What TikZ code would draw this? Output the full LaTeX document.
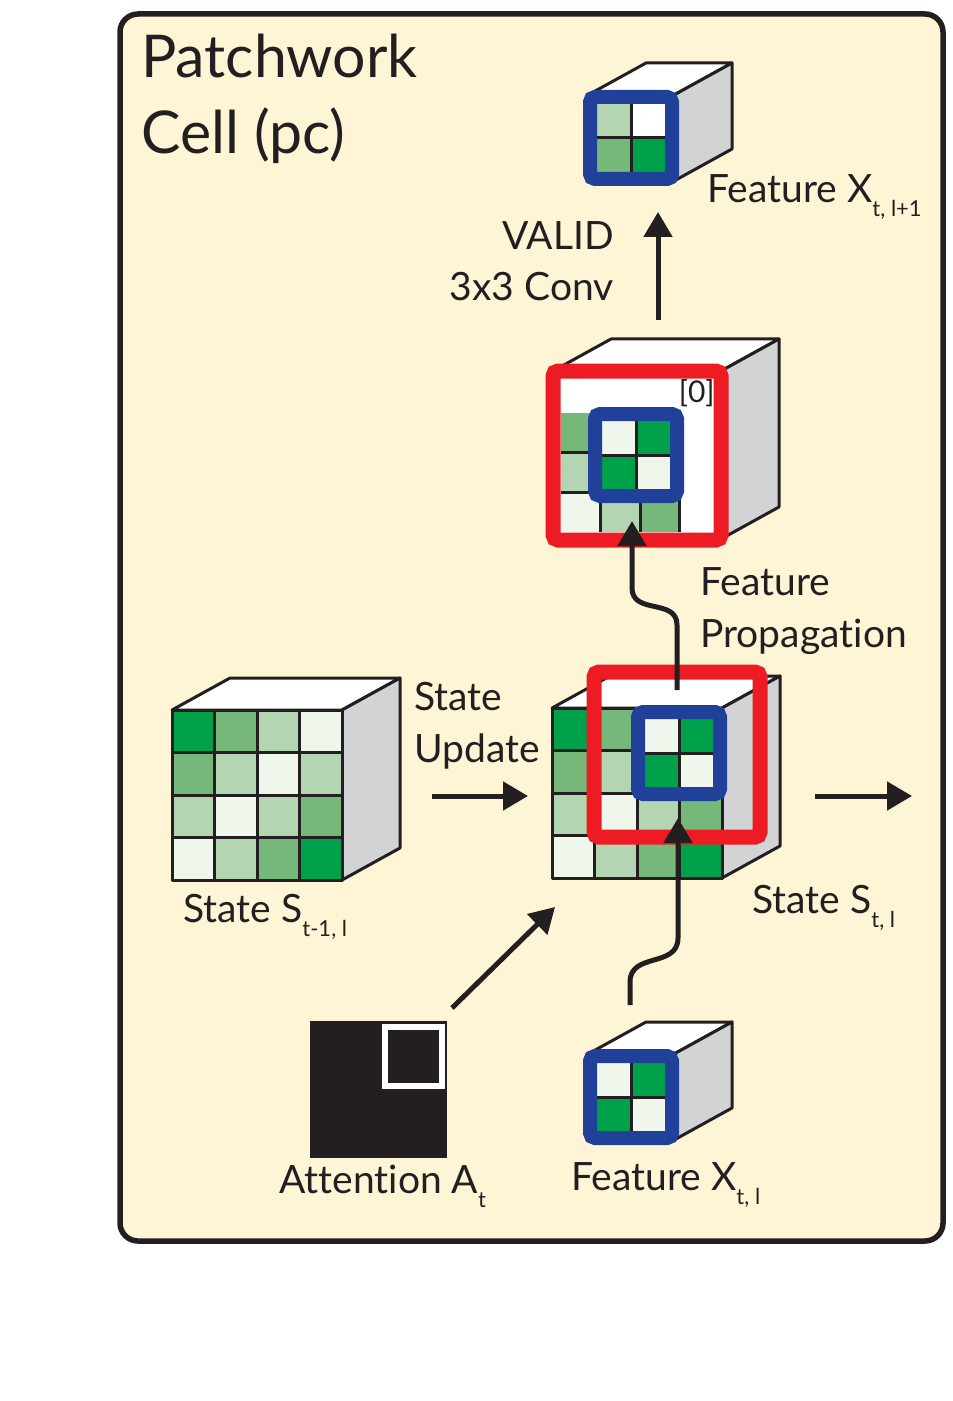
\documentclass[tikz,border=0pt]{standalone}
\usepackage{fontspec}
\setmainfont{Lato}[Ligatures=NoCommon]
\usetikzlibrary{arrows.meta}
\definecolor{cream}{HTML}{FEF5D6}
\definecolor{ink}{HTML}{231F20}
\definecolor{sidegrey}{HTML}{D1D3D4}
\definecolor{gA}{HTML}{EFF6EC}
\definecolor{gB}{HTML}{B3D5B1}
\definecolor{gC}{HTML}{76B87A}
\definecolor{gD}{HTML}{00A14B}
\definecolor{pblue}{HTML}{21409A}
\definecolor{pred}{HTML}{ED1C24}
\tikzset{
  cubeline/.style={draw=ink, line width=1.5pt, line join=round},
  gridline/.style={draw=ink, line width=1.5pt},
  blueframe/.style={draw=pblue, line width=7pt, rounded corners=2.5pt},
  redframe/.style={draw=pred, line width=7.5pt, rounded corners=2.5pt},
  flow/.style={draw=ink, line width=2.5pt, -{Triangle[width=14pt,length=12.5pt]}},
  lbl/.style={text=ink, font=\fontsize{19.5}{24}\selectfont, inner sep=0pt},
  anchorbox/.style={inner sep=0pt, minimum size=#1, draw=none}
}
\newcommand\subx[1]{\raisebox{-7pt}{\fontsize{11}{11}\selectfont #1}}
\newcommand\drawcube[3]{%
  \filldraw[cubeline, fill=white] (#1,#2) -- ++(58,-32) -- ++(#3,0) -- ({#1+#3},#2) -- cycle;
  \filldraw[cubeline, fill=sidegrey] ({#1+#3},#2) -- ++(58,-32) -- ++(0,#3) -- ({#1+#3},{#2+#3}) -- cycle;
  \filldraw[cubeline, fill=white] (#1,#2) rectangle ++(#3,#3);
}
\newcommand\cellgrid[5]{%
  \foreach \cc [count=\i from 0] in {#5} {
    \pgfmathtruncatemacro\gc{mod(\i,#4)}
    \pgfmathtruncatemacro\gr{floor(\i/#4)}
    \fill[\cc] ({#1+\gc*#3},{#2+\gr*#3}) rectangle ++(#3,#3);
  }
  \pgfmathtruncatemacro\nm{#4-1}
  \foreach \k in {1,...,\nm} {
    \draw[gridline] ({#1+\k*#3},#2) -- ++(0,{#4*#3});
    \draw[gridline] (#1,{#2+\k*#3}) -- ++({#4*#3},0);
  }
}
\newcommand\bluepatch[6]{%
  \fill[#3] ({#1-34},{#2-34}) rectangle (#1,#2);
  \fill[#4] (#1,{#2-34}) rectangle ({#1+34},#2);
  \fill[#5] ({#1-34},#2) rectangle (#1,{#2+34});
  \fill[#6] (#1,#2) rectangle ({#1+34},{#2+34});
  \draw[gridline] (#1,{#2-34}) -- (#1,{#2+34});
  \draw[gridline] ({#1-34},#2) -- ({#1+34},#2);
  \draw[blueframe] ({#1-41},{#2-41}) rectangle ({#1+41},{#2+41});
}
\begin{document}
\begin{tikzpicture}[x=0.5pt,y=-0.5pt]
\useasboundingbox (0,0) rectangle (952,1401);
\fill[white] (0,0) rectangle (952,1401);
\filldraw[draw=ink, fill=cream, line width=2.75pt, rounded corners=9pt] (120,14) rectangle (943,1241);

% title
\node[text=ink, font=\fontsize{29.5}{38}\selectfont, inner sep=0pt, anchor=base west] (title1) at (141,78) {Patchwork};
\node[text=ink, font=\fontsize{29.5}{38}\selectfont, inner sep=0pt, anchor=base west] (title2) at (141,154) {Cell (pc)};

% top cube: Feature X_{t,l+1}
\drawcube{588}{95}{86}
\bluepatch{631}{138}{gB}{white}{gC}{gD}
\node[anchorbox=43pt] (xnext) at (631,138) {};
\node[lbl, anchor=base west] (lxnext) at (707,203) {Feature X\subx{t, l+1}};

% conv label
\node[lbl, anchor=base east] (lvalid) at (614,250) {VALID};
\node[lbl, anchor=base east] (lconv) at (614,300) {3x3 Conv};

% middle cube: propagated features
\drawcube{553}{371}{168}
\cellgrid{561}{413}{39.5}{3}{gC,gA,gD,gB,gD,gA,gA,gB,gC}
\draw[gridline] (679.5,413) -- (679.5,531.5);
\node[text=ink, font=\fontsize{15}{15}\selectfont, inner sep=0pt, anchor=base east] (pad) at (715,402) {[0]};
\bluepatch{636}{455}{gA}{gD}{gD}{gA}
\draw[redframe] (553,371) rectangle (721,540);
\node[anchorbox=84pt] (prop) at (637,455) {};

\node[lbl, anchor=base west] (lfeat) at (700,595) {Feature};
\node[lbl, anchor=base west] (lprop) at (700,647) {Propagation};

% left cube: State S_{t-1,l}
\drawcube{172}{710}{170}
\cellgrid{172}{710}{42.5}{4}{gD,gC,gB,gA, gC,gB,gA,gB, gB,gA,gB,gC, gA,gB,gC,gD}
\draw[cubeline] (172,710) rectangle ++(170,170);
\node[anchorbox=85pt] (sprev) at (257,795) {};
\node[lbl, anchor=base west] (lsprev) at (183,922) {State S\subx{t-1, l}};

\node[lbl, anchor=base west] (lstate) at (414,710) {State};
\node[lbl, anchor=base west] (lupdate) at (414,762) {Update};

% state cube: State S_{t,l}
\drawcube{552}{708}{170}
\cellgrid{552}{708}{42.5}{4}{gD,gC,gA,gD, gC,gB,gD,gA, gB,gA,gB,gC, gA,gB,gC,gD}
\draw[cubeline] (552,708) rectangle ++(170,170);
\bluepatch{679}{753}{gA}{gD}{gD}{gA}
\draw[redframe] (594,672) rectangle (760,837);
\node[anchorbox=85pt] (scur) at (637,793) {};
\node[lbl, anchor=base west] (lscur) at (752,913) {State S\subx{t, l}};

% attention
\fill[ink] (310,1021) rectangle (447,1158);
\draw[white, line width=3pt] (385,1027) rectangle (442,1086);
\node[anchorbox=68pt] (att) at (378.5,1089.5) {};
\node[lbl, anchor=base west] (latt) at (279,1193) {Attention A\subx{t}};

% bottom cube: Feature X_{t,l}
\drawcube{588}{1054}{86}
\bluepatch{631}{1097}{gA}{gD}{gD}{gA}
\node[anchorbox=43pt] (xcur) at (631,1097) {};
\node[lbl, anchor=base west] (lxcur) at (571,1190) {Feature X\subx{t, l}};

% connector end points
\coordinate (convS) at (658,320);
\coordinate (convE) at (658,212);
\coordinate (propS) at (677,690);
\coordinate (propE) at (632,521);
\coordinate (inS) at (630,1005);
\coordinate (inE) at (678,818);
\coordinate (updS) at (432,796);
\coordinate (updE) at (528,796);
\coordinate (outS) at (815,796);
\coordinate (outE) at (912,796);
\coordinate (attS) at (452,1008);
\coordinate (attE) at (555,907);

% connectors
\draw[flow] (convS) -- (convE);
\draw[flow] (propS) -- (677,625) .. controls (677,598) and (632,615) .. (632,588) -- (propE);
\draw[flow] (inS) -- (630,982) .. controls (630,952) and (678,968) .. (678,938) -- (inE);
\draw[flow] (updS) -- (updE);
\draw[flow] (outS) -- (outE);
\draw[flow] (attS) -- (attE);
\end{tikzpicture}
\end{document}
